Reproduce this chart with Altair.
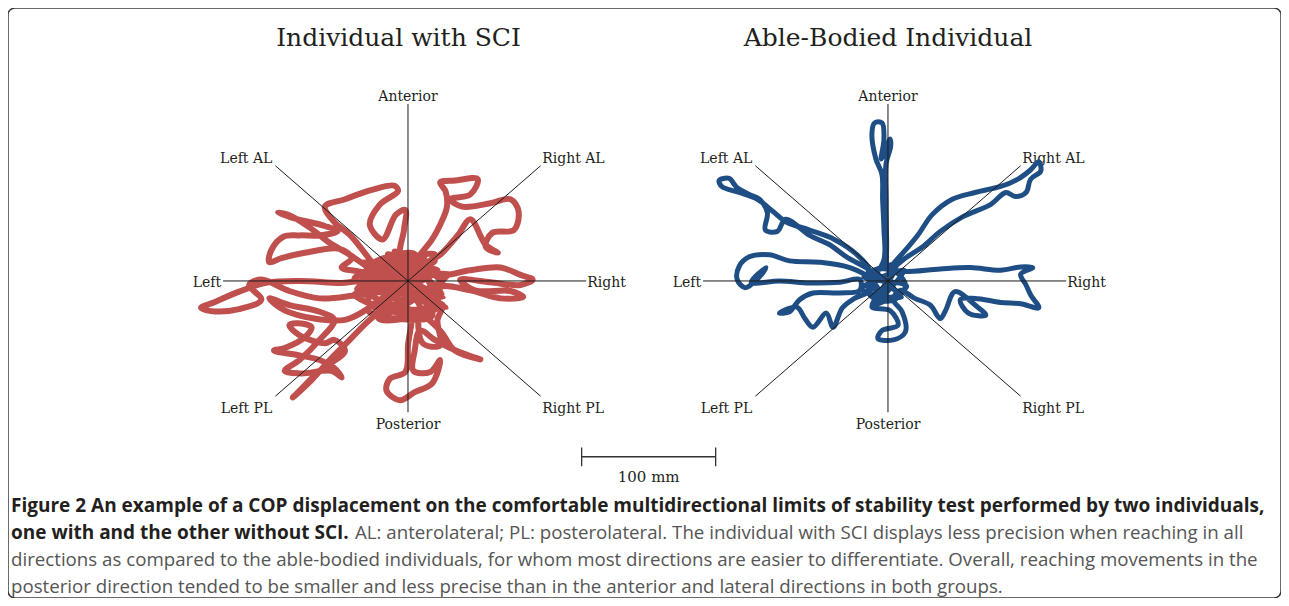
import altair as alt
import pandas as pd

# ---------------- data ----------------
PANELS = ["Individual with SCI", "Able-Bodied Individual"]

DIRECTIONS = ["Anterior", "Right AL", "Right", "Right PL",
              "Posterior", "Left PL", "Left", "Left AL"]
SPOKE_DX_MM = [0, 99, 133, 99, 0, -99, -138, -99]
SPOKE_DY_MM = [132, 86, 0, -86, -98, -86, 0, 86]

# COP trace of the individual with SCI (mm, x = right, y = anterior)
SCI_PATH = [
    (0, 0), (-10, 4.5), (9, 8), (16.5, -7), (-6, -14), (-17, -3), (-28.5, 4.5), (-21, 14),
    (1.5, 17), (13, 12), (24, 1), (20, -14), (5, -23), (-13.5, -18), (-27, -10.5), (-32, -1),
    (-51, -1.5), (-81, 0), (-107, -1.5), (-126, -8), (-145, -16), (-154.5, -20), (-147, -22.5),
    (-126, -21), (-109.5, -14), (-118.5, -3), (-109.5, 1), (-88.5, -7.5), (-66, -13), (-42, -11),
    (-21, -7),
    (-27, 7), (-43.5, 19.5), (-58.5, 28.5), (-73.5, 40), (-88.5, 49), (-97, 51), (-84, 46.5),
    (-62, 41), (-52.5, 37), (-66, 34), (-81, 34), (-93, 33), (-102, 23), (-103.5, 14),
    (-94.5, 17), (-77, 21), (-51, 24), (-42, 17), (-49.5, 10), (-36, 7), (-17, 1),
    (-28.5, 16), (-43.5, 34.5), (-55, 44), (-62, 55.5), (-47, 61), (-27, 68), (-10, 71),
    (-7.5, 67), (-21, 57), (-28.5, 42), (-19, 31), (-9, 49.5), (-2, 53), (-3, 38), (-6, 19.5),
    (1.5, 8),
    (9, 19.5), (18, 31), (24, 42), (29, 55), (28, 67), (24, 73.5), (35, 75), (52, 76),
    (46.5, 64.5), (31.5, 61), (40.5, 55.5), (61.5, 58), (76.5, 61), (82.5, 52), (79, 38),
    (63, 36), (58, 25.5), (67, 21), (58, 27), (46.5, 46), (37.5, 34.5), (24, 19.5), (13, 12),
    (24, 4.5), (46.5, 8), (69, 10), (84, 4.5), (93, 1), (84, -3), (61.5, -1), (39, 1), (50, -7),
    (76.5, -7.5), (86, -12), (69, -13), (46.5, -7), (24, -4.5),
    (18, -14), (26, -18), (22, -29), (24, -48), (11, -46.5), (9, -25.5), (24, -37), (35, -52),
    (54, -58.5), (46.5, -56), (31.5, -50), (20, -44),
    (9, -37), (5, -52), (4, -67), (16.5, -68), (24, -59), (18, -76.5), (5, -83), (-6, -89),
    (-16, -82), (-13.5, -73), (-2, -68), (0, -48), (1.5, -22),
    (-13.5, -18), (-28.5, -29), (-43.5, -44), (-58.5, -59), (-72, -74), (-86, -87), (-81, -82),
    (-66, -67), (-47, -52), (-55, -44), (-62, -46.5), (-81, -40.5), (-88.5, -33), (-82.5, -31.5),
    (-72, -34.5), (-77, -42), (-92, -50), (-100, -52), (-81, -55.5), (-66, -59), (-55, -65),
    (-49.5, -72), (-57, -67), (-79.5, -69), (-92, -67), (-81, -59),
    (-66, -44), (-55, -29), (-66, -23), (-88.5, -18), (-103.5, -13), (-92, -22), (-70, -28),
    (-47, -29), (-32, -22), (-21, -14), (-10, -7), (-2, -1),
    (-25, 10), (15, -20), (-30, -15), (20, 15), (-35, 0), (25, -10), (-15, 20), (10, -25),
    (-40, -10), (30, 5), (-20, -25), (5, 20), (-30, 10), (28, -20), (-36, 5), (22, 8),
    (-30, -22), (18, -26), (-10, 22), (26, -3), (-38, -6), (12, 18), (-22, -28), (24, -18),
    (-33, 14), (8, -28), (-15, -5), (15, 5), (-25, -20), (20, 20), (-40, 2), (26, -12), (0, 0),
]

# COP trace of the able-bodied individual (mm)
AB_PATH = [
    (0, 0), (-6, -7), (-13.5, -3), (-10, 8), (5, 7), (13, -3), (5, -14), (-7.5, -14), (-15, -8),
    (-3, 16), (-3, 38), (-4, 61), (-4.5, 79.5), (-9, 91), (-12, 109.5), (-10, 118), (-4.5, 118),
    (-3, 106), (-5, 91), (-1.5, 97), (1.5, 106), (2, 100.5), (-1.5, 87), (-1.5, 61), (-1, 31),
    (0, 8),
    (5, 14), (13, 23), (22.5, 34.5), (33, 49.5), (48, 61), (65, 66), (84, 70.5), (97, 76),
    (106.5, 83), (112.5, 89), (114, 82), (106.5, 76), (103, 66), (95, 63), (88, 66), (76.5, 57),
    (56, 48), (39, 37), (26, 25.5), (13, 17), (4, 8),
    (13, 7), (39, 9), (61.5, 10), (84, 8), (99, 10.5), (108, 10), (99, 5), (103, -3),
    (106.5, -10.5), (112.5, -20), (99, -17), (84, -16), (65, -13), (54, -14), (60, -24),
    (73, -25.5), (65, -18), (50, -8), (43, -22), (39, -28), (31.5, -18), (20, -13), (9, -7),
    (4, -14), (10.5, -23), (13, -38), (4, -44), (-7.5, -43), (-4.5, -37), (7.5, -33), (1.5, -22),
    (-12, -19.5), (-6, -10.5),
    (-13.5, 2), (-28.5, 10), (-51, 14), (-73.5, 15), (-88.5, 19.5), (-103.5, 18), (-111, 11),
    (-112.5, 1), (-106.5, -5), (-96, 3), (-91, 10), (-102, -1), (-81, 0), (-58.5, -1.5),
    (-36, -1), (-21, 1),
    (-21, -7), (-36, -9), (-56, -9), (-66, -14), (-73.5, -23), (-81, -24), (-68, -19.5),
    (-62, -28), (-56, -34.5), (-46, -24), (-41, -34.5), (-34, -20), (-25, -13), (-13.5, -7),
    (-13.5, 8), (-23, 19.5), (-40, 31), (-58.5, 38), (-76, 44), (-86, 52), (-97.5, 61),
    (-111, 66), (-124, 70.5), (-126, 75), (-118.5, 76.5), (-113, 70), (-103.5, 64.5), (-96, 61),
    (-90, 51), (-91.5, 38), (-82.5, 37), (-76.5, 46), (-58.5, 34), (-43.5, 27), (-31, 18),
    (-16.5, 10), (0, 0),
    (-15, 8), (10, -12), (-20, -6), (12, 8), (-8, -15), (6, 12), (-18, 3), (14, -4), (-12, -18),
    (0, 0),
]

SCALE_BAR_MM = 100
SCALE_LABEL = "100 mm"

CAPTION_L1_BOLD = ("Figure 2 An example of a COP displacement on the comfortable multidirectional "
                   "limits of stability test performed by two individuals,")
CAPTION_L2_BOLD = "one with and the other without SCI."
CAPTION_L2 = ("AL: anterolateral; PL: posterolateral. The individual with SCI displays less "
              "precision when reaching in all")
CAPTION_L3 = ("directions as compared to the able-bodied individuals, for whom most directions "
              "are easier to differentiate. Overall, reaching movements in the")
CAPTION_L4 = ("posterior direction tended to be smaller and less precise than in the anterior "
              "and lateral directions in both groups.")

# ---------------- layout ----------------
W, H = 1273, 590
PX_PER_MM = 1.34
XMAX = W / PX_PER_MM
YMIN = -H / PX_PER_MM          # y measured upward from the top edge (0)
CENTERS = {PANELS[0]: (298.5, -203.7), PANELS[1]: (656.7, -203.7)}
TITLE_PX = {PANELS[0]: 390.5, PANELS[1]: 880}
SCALE_BAR_ORIGIN = (428.1, -334.9)

RED = "#C0504D"
BLUE = "#1F4E85"
INK = "#231f20"
SERIF = "DejaVu Serif"
SANS = "Open Sans"

XS = alt.Scale(domain=[0, XMAX], nice=False, zero=False)
YS = alt.Scale(domain=[YMIN, 0], nice=False, zero=False)


def X(field):
    return alt.X(field, type="quantitative", scale=XS, axis=None)


def Y(field):
    return alt.Y(field, type="quantitative", scale=YS, axis=None)


def path_df(points, panel):
    cx, cy = CENTERS[panel]
    return pd.DataFrame({
        "i": list(range(len(points))),
        "x": [cx + p[0] for p in points],
        "y": [cy + p[1] for p in points],
    })


layers = []

# direction labels
LABEL_STYLE = {
    "Anterior": ("center", 0, -3.5),
    "Right AL": ("left", 1.5, -3),
    "Right": ("left", 1, 6),
    "Right PL": ("left", 1.5, 17),
    "Posterior": ("center", 0, 16.5),
    "Left PL": ("right", -3, 17),
    "Left": ("right", -2, 6),
    "Left AL": ("right", -3, -3),
}
for name, dx, dy in zip(DIRECTIONS, SPOKE_DX_MM, SPOKE_DY_MM):
    rows = [{"x": CENTERS[p][0] + dx, "y": CENTERS[p][1] + dy, "label": name} for p in PANELS]
    align, ox, oy = LABEL_STYLE[name]
    layers.append(
        alt.Chart(pd.DataFrame(rows)).mark_text(
            font=SERIF, fontSize=14, color=INK, align=align, baseline="alphabetic", dx=ox, dy=oy
        ).encode(x=X("x"), y=Y("y"), text="label:N")
    )

# traces
for panel, pts, col, sw in [(PANELS[0], SCI_PATH, RED, 6), (PANELS[1], AB_PATH, BLUE, 5)]:
    layers.append(
        alt.Chart(path_df(pts, panel)).mark_line(
            color=col, strokeWidth=sw, strokeCap="round", strokeJoin="round",
            interpolate="catmull-rom"
        ).encode(x=X("x"), y=Y("y"), order="i:Q")
    )

# spokes
spoke_rows = []
for p in PANELS:
    cx, cy = CENTERS[p]
    for dx, dy in zip(SPOKE_DX_MM, SPOKE_DY_MM):
        spoke_rows.append({"x": cx, "y": cy, "x2": cx + dx, "y2": cy + dy})
layers.append(
    alt.Chart(pd.DataFrame(spoke_rows)).mark_rule(color="#1a1a1a", strokeWidth=1).encode(
        x=X("x"), y=Y("y"), x2="x2:Q", y2="y2:Q"
    )
)

# panel titles
title_df = pd.DataFrame({"title": PANELS, "px": [TITLE_PX[p] for p in PANELS]})
layers.append(
    alt.Chart(title_df).mark_text(
        font=SERIF, fontSize=25, color=INK, align="center", baseline="alphabetic"
    ).encode(x=alt.X("px:Q", scale=None), y=alt.value(38), text="title:N")
)

# scale bar
sx, sy = SCALE_BAR_ORIGIN
bar_df = pd.DataFrame([
    {"x": sx, "y": sy, "x2": sx + SCALE_BAR_MM, "y2": sy},
    {"x": sx, "y": sy - 7, "x2": sx, "y2": sy + 7},
    {"x": sx + SCALE_BAR_MM, "y": sy - 7, "x2": sx + SCALE_BAR_MM, "y2": sy + 7},
])
layers.append(
    alt.Chart(bar_df).mark_rule(color="#333333", strokeWidth=1.3).encode(
        x=X("x"), y=Y("y"), x2="x2:Q", y2="y2:Q"
    )
)
layers.append(
    alt.Chart(pd.DataFrame({"x": [sx + SCALE_BAR_MM / 2], "y": [sy], "t": [SCALE_LABEL]})).mark_text(
        font=SERIF, fontSize=15, color=INK, align="center", baseline="alphabetic", dy=25
    ).encode(x=X("x"), y=Y("y"), text="t:N")
)

# caption
def cap(text, px, py, bold):
    return alt.Chart(pd.DataFrame({"t": [text]})).mark_text(
        font=SANS, fontSize=19.0 if bold else 18.7, fontWeight="bold" if bold else "normal",
        color=INK if bold else "#555555", align="left", baseline="alphabetic"
    ).encode(x=alt.value(px), y=alt.value(py), text="t:N")

layers += [
    cap(CAPTION_L1_BOLD, 3, 504, True),
    cap(CAPTION_L2_BOLD, 3, 531, True),
    cap(CAPTION_L2, 347, 531, False),
    cap(CAPTION_L3, 3, 558, False),
    cap(CAPTION_L4, 3, 585, False),
]

chart = alt.layer(*layers).properties(
    width=W, height=H,
    autosize=alt.AutoSizeParams(type="none"),
    padding=0,
).configure_view(stroke="#3a3a3a", strokeWidth=1.5, cornerRadius=7)

chart.save("out.html", embed_options={"renderer": "svg", "actions": False})
